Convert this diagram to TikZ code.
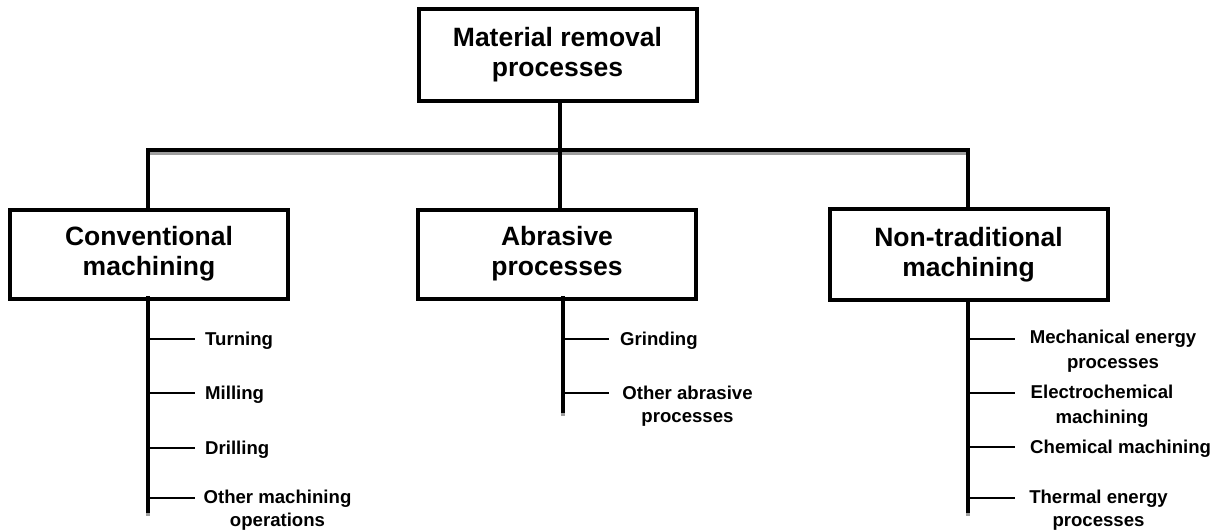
\documentclass[tikz,border=0pt]{standalone}
\usepackage{fontspec}
\setmainfont{Liberation Sans}
\begin{document}
\begin{tikzpicture}[x=1pt,y=-1pt,
  catbox/.style={draw=black, line width=4pt, fill=white, minimum width=278pt,
    minimum height=89pt, align=center, inner sep=2pt,
    font=\fontsize{26.5}{30}\selectfont\bfseries},
  trunk/.style={line width=4pt, line cap=rect},
  trunkshade/.style={line width=3.5pt, draw=black!38, line cap=rect},
  twig/.style={line width=1.4pt},
  leaf/.style={inner sep=0pt, font=\fontsize{18.6}{22.5}\selectfont\bfseries},
  leafml/.style={leaf, align=center, anchor=north}]
\useasboundingbox (0,0) rectangle (1222,530);

% junction points of the main tree
\coordinate (hub) at (560,150);
\coordinate (hl) at (148,150);
\coordinate (hr) at (968,150);

% ends of the three branch stems
\coordinate (convend) at (148,511);
\coordinate (abrend) at (563,411);
\coordinate (ntmend) at (968,511);

% grey shading under the heavy connectors
\draw[trunkshade] ([yshift=-3.5pt]hl) -- ([yshift=-3.5pt]hr);
\draw[trunkshade] ([yshift=-2pt]convend) -- ([yshift=-3pt]convend);
\draw[trunkshade] ([yshift=-2pt]abrend) -- ([yshift=-3pt]abrend);
\draw[trunkshade] ([yshift=-2pt]ntmend) -- ([yshift=-3pt]ntmend);

% heavy connectors
\draw[trunk] (hl) -- (hr);
\draw[trunk] (560,101) -- (hub);
\draw[trunk] (hub) -- (560,210);
\draw[trunk] (hl) -- (148,210);
\draw[trunk] (hr) -- (968,210);

% category boxes
\node[catbox, minimum height=92pt] (top) at (557.5,55) {Material removal\\processes};
\node[catbox] (conv) at (149,254) {Conventional\\machining};
\node[catbox] (abr) at (557,254) {Abrasive\\processes};
\node[catbox, minimum height=91pt] (ntm) at (968.5,254.5) {Non-traditional\\machining};

% branch stems
\draw[trunk] (148,298) -- (convend);
\draw[trunk] (563,298) -- (abrend);
\draw[trunk] (968,300) -- (ntmend);

% conventional machining leaves
\coordinate (c1) at (148,339); \coordinate (c1e) at (195,339);
\coordinate (c2) at (148,393); \coordinate (c2e) at (195,393);
\coordinate (c3) at (148,448); \coordinate (c3e) at (195,448);
\coordinate (c4) at (148,498); \coordinate (c4e) at (195,498);
\draw[twig] (c1) -- (c1e);
\draw[twig] (c2) -- (c2e);
\draw[twig] (c3) -- (c3e);
\draw[twig] (c4) -- (c4e);
\node[leaf, anchor=base west] (turn) at (205,345.7) {Turning};
\node[leaf, anchor=base west] (mill) at (205,399.7) {Milling};
\node[leaf, anchor=base west] (drill) at (205,454.7) {Drilling};
\node[leafml] (othm) at (277.5,490) {Other machining\\operations};

% abrasive process leaves
\coordinate (a1) at (563,339); \coordinate (a1e) at (609,339);
\coordinate (a2) at (563,393); \coordinate (a2e) at (609,393);
\draw[twig] (a1) -- (a1e);
\draw[twig] (a2) -- (a2e);
\node[leaf, anchor=base west] (grind) at (620,345.7) {Grinding};
\node[leafml] (otha) at (687.5,386) {Other abrasive\\processes};

% non-traditional machining leaves
\coordinate (n1) at (968,339); \coordinate (n1e) at (1015,339);
\coordinate (n2) at (968,393); \coordinate (n2e) at (1015,393);
\coordinate (n3) at (968,447); \coordinate (n3e) at (1015,447);
\coordinate (n4) at (968,498); \coordinate (n4e) at (1015,498);
\draw[twig] (n1) -- (n1e);
\draw[twig] (n2) -- (n2e);
\draw[twig] (n3) -- (n3e);
\draw[twig] (n4) -- (n4e);
\node[leafml, font=\fontsize{18.6}{24.5}\selectfont\bfseries] (mech) at (1113,330) {Mechanical energy\\processes};
\node[leafml, font=\fontsize{18.6}{24.5}\selectfont\bfseries] (ecm) at (1102,385) {Electrochemical\\machining};
\node[leaf, anchor=base west] (chem) at (1030,453.7) {Chemical machining};
\node[leafml] (therm) at (1098.5,490) {Thermal energy\\processes};
\end{tikzpicture}
\end{document}
